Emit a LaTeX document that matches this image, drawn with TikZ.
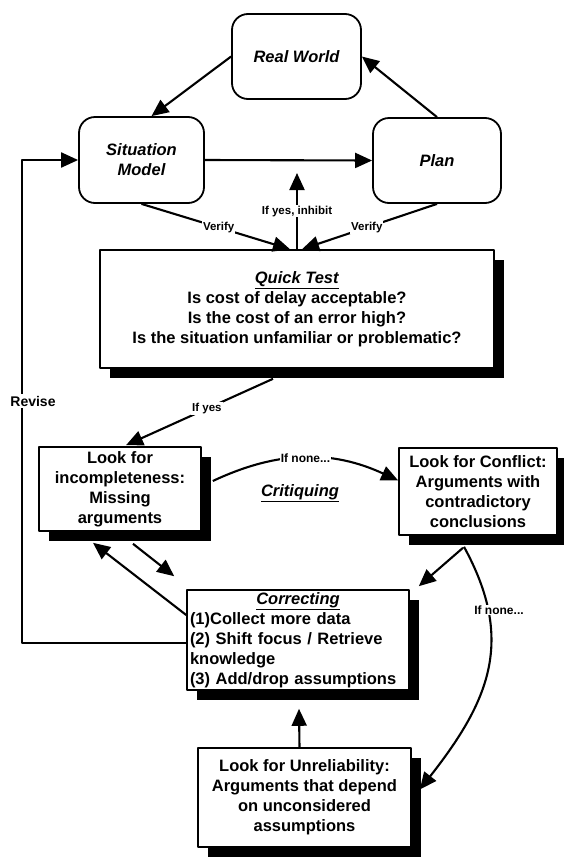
\documentclass[tikz,border=0pt]{standalone}
\usepackage{fontspec}
\setmainfont{Liberation Sans}
\usetikzlibrary{arrows.meta,shadows}

\begin{document}
\begin{tikzpicture}[x=1pt,y=-1pt,line width=2.1pt,line join=round,
  >={Triangle[length=17pt,width=15pt]},
  big/.style={font=\bfseries\fontsize{16.5}{20}\selectfont},
  lbl/.style={font=\bfseries\fontsize{11.5}{13}\selectfont,fill=white,inner sep=1pt},
  rbox/.style={draw,line width=1.8pt,rounded corners=16pt,align=center,
    font=\bfseries\itshape\fontsize{16.5}{20}\selectfont},
  sbox/.style={big,draw,line width=1.6pt,fill=white,align=center,inner sep=2pt,
    drop shadow={shadow xshift=10pt,shadow yshift=-10pt,opacity=1,fill=black}}]
  \useasboundingbox (0,0) rectangle (563,857);

  % top cycle
  \node[rbox,minimum width=129pt,minimum height=85pt] (world) at (296.5,56.5) {Real World};
  \node[rbox,minimum width=125pt,minimum height=86pt] (model) at (141.5,160) {Situation\\Model};
  \node[rbox,minimum width=128pt,minimum height=85pt] (plan) at (437,160.5) {Plan};

  \node[sbox,minimum width=394pt,minimum height=118pt] (test) at (297,309)
    {\underline{\textit{Quick Test}}\\Is cost of delay acceptable?\\
     Is the cost of an error high?\\Is the situation unfamiliar or problematic?};

  % critiquing
  \node[sbox,minimum width=162pt,minimum height=84pt] (incomp) at (120,489)
    {Look for\\incompleteness:\\Missing\\arguments};
  \node[sbox,minimum width=158pt,minimum height=87pt] (conflict) at (478,491.5)
    {Look for Conflict:\\Arguments with\\contradictory\\conclusions};
  \node[big] (critiq) at (300,493) {\underline{\textit{Critiquing}}};
  \node[sbox,minimum width=222pt,minimum height=100pt,text width=216pt,align=left] (fix) at (298,640)
    {\null\hfill\underline{\textit{Correcting}}\hfill\null\\(1)Collect more data\\
     (2) Shift focus / Retrieve\\knowledge\\(3) Add/drop assumptions};
  \node[sbox,minimum width=213pt,minimum height=99pt] (unrel) at (304.5,797.5)
    {Look for Unreliability:\\Arguments that depend\\on unconsidered\\assumptions};

  \draw[->] (world.west) -- ([shift={(10,0)}]model.north);
  \draw[->] (plan.north) -- (world.east);
  \draw[->] (model.east) -- (plan.west);

  \coordinate (inhibit) at (297,173);
  \draw[->] (test.north) -- node[lbl] (yesinh) {If yes, inhibit} (inhibit);
  \foreach \src/\dx in {model/-7,plan/5}
    \draw[->] (\src.south) -- node[lbl,pos=0.52] {Verify} ([shift={(\dx,0)}]test.north);

  \draw[->] ([shift={(-24,10)}]test.south) -- node[lbl,pos=0.45] (ifyes) {If yes}
    ([shift={(6,-1)}]incomp.north);
  \draw[->] ([shift={(11,-8)}]incomp.east) to[bend left=25]
    node[lbl,pos=0.5,font=\bfseries\fontsize{12}{13}\selectfont] (none1) {If none...}
    ([shift={(0,-11)}]conflict.west);

  \draw[->] ([shift={(0,-25)}]fix.west) -- ([shift={(-27,11)}]incomp.south);
  \draw[->] ([shift={(13,12)}]incomp.south) -- ([shift={(-12,-13)}]fix.north west);
  \draw[->] ([shift={(-15,12)}]conflict.south) -- ([shift={(9,-3)}]fix.north east);
  \draw[->] ([shift={(-14,11)}]conflict.south) .. controls (515,640) and (490,700)
    .. ([shift={(8,-8)}]unrel.east);
  \node[lbl,font=\bfseries\fontsize{12}{13}\selectfont] (none2) at (499,610) {If none...};
  \draw[->] ([shift={(-5,0)}]unrel.north) -- ([shift={(1,18)}]fix.south);

  % revise loop
  \coordinate (revise) at (22,401);
  \draw[->] ([shift={(0,3)}]fix.west) -| (revise) |- (model.west);
  \node[lbl,font=\bfseries\fontsize{14}{16}\selectfont,inner sep=2pt] (revlbl) at (33,401) {Revise};
\end{tikzpicture}
\end{document}
